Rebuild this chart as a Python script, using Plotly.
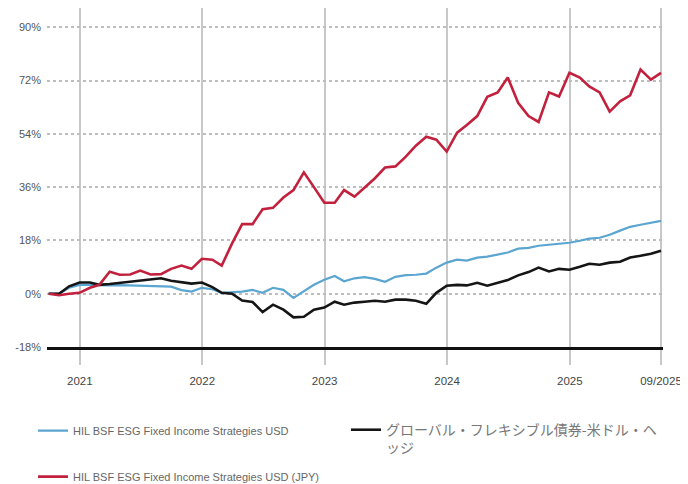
import pandas as pd
import plotly.graph_objects as go

# Month-end dates, Sep 2020 to Sep 2025
dates = pd.date_range("2020-09-30", "2025-09-30", freq="ME")

fund_usd = [
    0, 0, 2, 3, 3, 2.8, 2.8, 2.9, 2.8, 2.6, 2.7, 2.6, 2.4, 1.2, 0.7, 2, 1.5,
    0.3, 0.6, 0.7, 1.3, 0.3, 2, 1.3, -1.4, 0.7, 3, 4.7, 6, 4.2, 5.2, 5.6, 5,
    4, 5.7, 6.3, 6.4, 6.8, 8.8, 10.5, 11.5, 11.2, 12.2, 12.5, 13.2, 13.9,
    15.2, 15.5, 16.2, 16.5, 16.9, 17.2, 17.9, 18.6, 18.9, 19.9, 21.3, 22.6,
    23.3, 24, 24.6,
]
fund_jpy = [
    0, -0.5, 0, 0.3, 2, 3, 7.4, 6.4, 6.5, 7.8, 6.5, 6.6, 8.4, 9.5, 8.4, 11.8,
    11.5, 9.5, 17, 23.5, 23.5, 28.5, 29, 32.5, 35, 41, 36, 30.7, 30.7, 35,
    32.8, 36, 39, 42.6, 43, 46.3, 50, 53, 52, 48, 54.4, 57, 60, 66.5, 68, 73,
    64.5, 60, 58, 68, 66.6, 74.6, 73, 70, 68, 61.5, 65, 67, 75.7, 72.3, 74.6,
]
peer = [
    0, 0, 2.5, 3.8, 3.8, 3, 3.3, 3.7, 4.2, 4.6, 4.8, 5.2, 4.4, 3.8, 3.4, 3.8,
    2.2, 0.3, 0, -2.3, -2.8, -6.2, -3.7, -5.4, -8, -7.8, -5.4, -4.7, -2.7,
    -3.7, -3, -2.7, -2.4, -2.7, -2, -2, -2.4, -3.4, 0.3, 2.7, 3, 2.8, 3.7,
    2.7, 3.6, 4.6, 6.2, 7.3, 8.8, 7.5, 8.4, 8.1, 9.1, 10.1, 9.8, 10.5, 10.8,
    12.2, 12.8, 13.5, 14.5,
]

y_ticks = [-18, 0, 18, 36, 54, 72, 90]
y_labels = ["-18%", "0%", "18%", "36%", "54%", "72%", "90%"]
x_ticks = ["2021-01-01", "2022-01-01", "2023-01-01", "2024-01-01",
           "2025-01-01", "2025-09-30"]
x_labels = ["2021", "2022", "2023", "2024", "2025", "09/2025"]

FONT = "Liberation Sans, Arial, sans-serif"

fig = go.Figure()

fig.add_trace(go.Scatter(
    x=dates, y=fund_usd, mode="lines",
    name="HIL BSF ESG Fixed Income Strategies USD",
    line={"color": "#5ba5d1", "width": 2.2},
    legend="legend", legendgroup="a",
))
fig.add_trace(go.Scatter(
    x=dates, y=peer, mode="lines",
    name="グローバル・フレキシブル債券-米ドル・ヘ<br>ッジ",
    line={"color": "#151515", "width": 2.6},
    legend="legend2",
))
fig.add_trace(go.Scatter(
    x=dates, y=fund_jpy, mode="lines",
    name="HIL BSF ESG Fixed Income Strategies USD (JPY)",
    line={"color": "#c2213d", "width": 2.6},
    legend="legend", legendgroup="b",
))

# the page body adds an 8px offset, so the figure is sized 8px smaller
fig.update_layout(
    width=680, height=476,
    margin={"l": 39, "r": 25, "t": 0, "b": 137, "autoexpand": False},
    plot_bgcolor="white", paper_bgcolor="white",
    showlegend=True,
    legend={
        "x": -0.0227, "xanchor": "left",
        "y": -0.204, "yanchor": "top",
        "orientation": "v", "tracegroupgap": 27,
        "font": {"family": FONT, "size": 11, "color": "#666"},
        "itemwidth": 30, "bgcolor": "rgba(0,0,0,0)",
    },
    legend2={
        "x": 0.4854, "xanchor": "left",
        "y": -0.198, "yanchor": "top",
        "orientation": "v", "valign": "top",
        "font": {"family": "Noto Sans CJK JP", "size": 14, "color": "#777"},
        "itemwidth": 30, "bgcolor": "rgba(0,0,0,0)",
    },
)

fig.update_xaxes(
    type="date", automargin=False,
    range=["2020-09-25", "2025-10-06"],
    tickvals=x_ticks, ticktext=x_labels,
    showgrid=True, gridcolor="#c8c8c8", gridwidth=1.5,
    ticks="outside", ticklen=15, tickcolor="#c8c8c8", tickwidth=1.5,
    ticklabelstandoff=6,
    showline=True, linecolor="#111", linewidth=2.5,
    tickfont={"family": FONT, "size": 11.5, "color": "#444"},
    zeroline=False,
)
fig.update_yaxes(
    automargin=False,
    range=[-18, 96.5],
    tickvals=y_ticks, ticktext=y_labels,
    showgrid=True, gridcolor="#bdbdbd", gridwidth=1.5, griddash="dot",
    showline=False, zeroline=False, ticks="",
    ticklabelstandoff=5,
    tickfont={"family": FONT, "size": 11, "color": "#555"},
)

fig.write_html("out.html")
